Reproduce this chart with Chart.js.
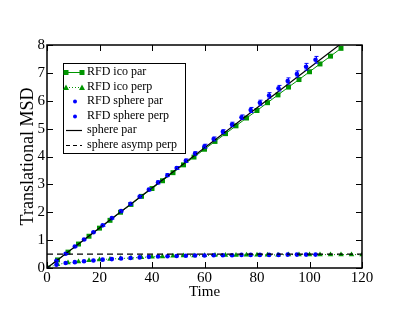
<!DOCTYPE html>
<html><head><meta charset="utf-8">
<script src="https://cdn.jsdelivr.net/npm/chart.js@4/dist/chart.umd.min.js"></script>
<style>html,body{margin:0;padding:0;background:#fff;}canvas{display:block;}</style>
</head><body>
<canvas id="c" width="407" height="315"></canvas>
<script>
const timeIco = [0,4,8,12,16,20,24,28,32,36,40,44,48,52,56,60,64,68,72,76,80,84,88,92,96,100,104,108,112,116,120];
const icoPar = [0,0.29,0.57,0.86,1.14,1.43,1.71,2.00,2.28,2.57,2.85,3.13,3.42,3.70,3.98,4.26,4.54,4.82,5.10,5.38,5.65,5.93,6.21,6.49,6.76,7.04,7.32,7.60,7.88];
const icoPerp = [0,0.13,0.19,0.23,0.27,0.30,0.32,0.34,0.36,0.38,0.40,0.41,0.43,0.44,0.44,0.45,0.46,0.46,0.46,0.47,0.47,0.47,0.47,0.48,0.48,0.48,0.48,0.48,0.48,0.48,0.48];
const timeSphere = [0,3.6,7.1,10.6,14.1,17.7,21.2,24.7,28.2,31.8,35.3,38.8,42.3,45.9,49.4,52.9,56.4,60.0,63.5,67.0,70.5,74.1,77.6,81.1,84.6,88.2,91.7,95.2,98.7,102.3];
const spherePar = [0,0.26,0.51,0.77,1.02,1.28,1.53,1.79,2.04,2.30,2.56,2.81,3.07,3.33,3.59,3.85,4.11,4.37,4.63,4.89,5.15,5.41,5.67,5.93,6.19,6.45,6.71,6.96,7.22,7.47];
const sphereParErr = [0,0.01,0.01,0.02,0.02,0.02,0.03,0.03,0.03,0.04,0.04,0.04,0.05,0.05,0.05,0.06,0.06,0.07,0.07,0.07,0.08,0.08,0.09,0.09,0.10,0.10,0.11,0.11,0.12,0.12];
const spherePerp = [0,0.12,0.18,0.21,0.24,0.27,0.30,0.32,0.34,0.36,0.38,0.40,0.41,0.42,0.43,0.44,0.45,0.45,0.46,0.46,0.46,0.47,0.47,0.47,0.47,0.47,0.48,0.48,0.48,0.48];
const theoryTime = [0,120];
const theoryPar = [0,8.62];
const asympPerp = [0.5,0.5];
const labels = ['RFD ico par','RFD ico perp','RFD sphere par','RFD sphere perp','sphere par','sphere asymp perp'];

const GREEN = 'rgb(0,150,0)';
const BLUE = 'rgb(0,0,255)';
const FONT = "'Liberation Serif', 'Times New Roman', serif";
const pts = (xs, ys) => ys.map((v, i) => ({x: xs[i], y: v}));

const errorBars = {
  id: 'errorBars',
  afterDatasetsDraw(chart) {
    const {ctx, scales: {x, y}} = chart;
    ctx.save();
    ctx.strokeStyle = BLUE; ctx.lineWidth = 1;
    timeSphere.forEach((t, i) => {
      const e = sphereParErr[i];
      if (!e) return;
      const px = Math.round(x.getPixelForValue(t)) + 0.5;
      const y1 = y.getPixelForValue(spherePar[i] + e), y2 = y.getPixelForValue(spherePar[i] - e);
      ctx.beginPath();
      ctx.moveTo(px, y1); ctx.lineTo(px, y2);
      ctx.moveTo(px - 2, y1); ctx.lineTo(px + 2, y1);
      ctx.moveTo(px - 2, y2); ctx.lineTo(px + 2, y2);
      ctx.stroke();
    });
    ctx.restore();
  }
};

const frame = {
  id: 'frame',
  afterDraw(chart) {
    const {ctx, chartArea: {left, top, right, bottom}, scales: {x, y}} = chart;
    ctx.save();
    ctx.strokeStyle = '#000';
    ctx.lineWidth = 1;
    ctx.beginPath();
    x.ticks.forEach(t => {
      const px = Math.round(x.getPixelForValue(t.value)) + 0.5;
      ctx.moveTo(px, bottom); ctx.lineTo(px, bottom - 6);
      ctx.moveTo(px, top); ctx.lineTo(px, top + 6);
    });
    y.ticks.forEach(t => {
      const py = Math.round(y.getPixelForValue(t.value)) + 0.5;
      ctx.moveTo(left, py); ctx.lineTo(left + 6, py);
      ctx.moveTo(right, py); ctx.lineTo(right - 6, py);
    });
    ctx.stroke();
    ctx.lineWidth = 1.5;
    ctx.strokeRect(left, top, right - left, bottom - top);

    // legend
    const bx = 63, by = 63, bw = 122, bh = 90;
    ctx.fillStyle = '#fff';
    ctx.fillRect(bx, by, bw, bh);
    ctx.lineWidth = 1;
    ctx.strokeStyle = '#000';
    ctx.strokeRect(bx + 0.5, by + 0.5, bw, bh);
    ctx.font = '12px ' + FONT;
    ctx.textBaseline = 'middle';
    ctx.textAlign = 'left';
    const rowY = i => 72 + i * 14.5;
    const x1 = 66, x2 = 82, tx = 87;
    labels.forEach((lab, i) => {
      const yy = Math.round(rowY(i)) + 0.5;
      ctx.save();
      if (i === 0 || i === 1) {
        ctx.strokeStyle = GREEN; ctx.fillStyle = GREEN; ctx.lineWidth = 1;
        if (i === 1) ctx.setLineDash([1, 2]);
        ctx.beginPath(); ctx.moveTo(x1, yy); ctx.lineTo(x2, yy); ctx.stroke();
        ctx.setLineDash([]);
        [x1, x2].forEach(px => {
          if (i === 0) ctx.fillRect(px - 2.5, yy - 2.5, 5, 5);
          else { ctx.beginPath(); ctx.moveTo(px, yy - 3); ctx.lineTo(px + 3, yy + 2.5); ctx.lineTo(px - 3, yy + 2.5); ctx.closePath(); ctx.fill(); }
        });
      } else if (i === 2 || i === 3) {
        ctx.fillStyle = BLUE;
        ctx.beginPath(); ctx.arc(75, yy, 2, 0, Math.PI * 2); ctx.fill();
      } else {
        ctx.strokeStyle = '#000'; ctx.lineWidth = 1.2;
        if (i === 5) ctx.setLineDash([4, 3]);
        ctx.beginPath(); ctx.moveTo(x1, yy); ctx.lineTo(x2, yy); ctx.stroke();
      }
      ctx.restore();
      ctx.fillStyle = '#000';
      ctx.fillText(lab, tx, rowY(i));
    });
    ctx.restore();
  }
};

new Chart(document.getElementById('c'), {
  type: 'scatter',
  data: {
    datasets: [
      {label: labels[0], data: pts(timeIco, icoPar), showLine: true, borderColor: GREEN, backgroundColor: GREEN, borderWidth: 1, pointStyle: 'rect', pointRadius: 3.5, pointBorderWidth: 0, order: 6},
      {label: labels[1], data: pts(timeIco, icoPerp), showLine: true, borderColor: GREEN, backgroundColor: GREEN, borderWidth: 1, borderDash: [1, 2], pointStyle: 'triangle', pointRadius: 3.2, pointBorderWidth: 0, order: 5},
      {label: labels[2], data: pts(timeSphere, spherePar), showLine: false, borderColor: BLUE, backgroundColor: BLUE, pointStyle: 'circle', pointRadius: 2.3, pointBorderWidth: 0, order: 4},
      {label: labels[3], data: pts(timeSphere, spherePerp), showLine: false, borderColor: BLUE, backgroundColor: BLUE, pointStyle: 'circle', pointRadius: 2.3, pointBorderWidth: 0, order: 3},
      {label: labels[4], data: pts(theoryTime, theoryPar), showLine: true, borderColor: '#000', borderWidth: 1.2, pointRadius: 0, order: 2},
      {label: labels[5], data: pts(theoryTime, asympPerp), showLine: true, borderColor: '#000', borderWidth: 1.2, borderDash: [6, 4], pointRadius: 0, order: 1}
    ]
  },
  options: {
    responsive: false,
    animation: false,
    devicePixelRatio: 1,
    layout: {padding: {top: 45, right: 45, left: 0, bottom: 0}},
    plugins: {legend: {display: false}, tooltip: {enabled: false}},
    scales: {
      x: {
        type: 'linear', min: 0, max: 120,
        ticks: {stepSize: 20, color: '#000', font: {family: FONT, size: 15}, padding: 1, maxRotation: 0},
        grid: {display: false, drawTicks: false},
        border: {display: false},
        title: {display: true, text: 'Time', color: '#000', font: {family: FONT, size: 15}, padding: {top: 0, bottom: 14}},
        afterFit: s => { s.height = 47; }
      },
      y: {
        type: 'linear', min: 0, max: 8,
        ticks: {stepSize: 1, color: '#000', font: {family: FONT, size: 15}, padding: 2},
        grid: {display: false, drawTicks: false},
        border: {display: false},
        title: {display: true, text: 'Translational MSD', color: '#000', font: {family: FONT, size: 18}, padding: {top: 17, bottom: 0}},
        afterFit: s => { s.width = 47; }
      }
    }
  },
  plugins: [errorBars, frame]
});
</script>
</body></html>
